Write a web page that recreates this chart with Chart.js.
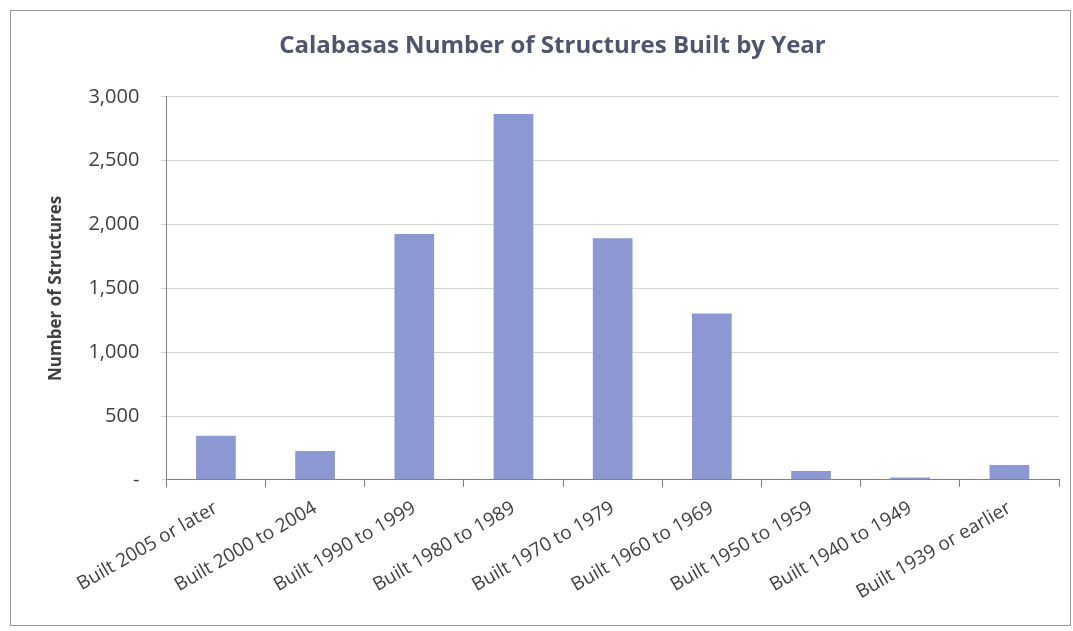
<!DOCTYPE html>
<html>
<head>
<meta charset="utf-8">
<script src="https://cdn.jsdelivr.net/npm/chart.js@4"></script>
<style>
  html, body { margin: 0; padding: 0; background: #fff; }
  #wrap { width: 1073px; height: 631px; position: relative; }
</style>
</head>
<body>
<div id="wrap"><canvas id="builtChart"></canvas></div>
<script>
// structures built, by year range
const categories = ["Built 2005 or later", "Built 2000 to 2004", "Built 1990 to 1999",
    "Built 1980 to 1989", "Built 1970 to 1979", "Built 1960 to 1969",
    "Built 1950 to 1959", "Built 1940 to 1949", "Built 1939 or earlier"]
const structures = [345, 227, 1925, 2865, 1893, 1302, 70, 18, 117]
const yTicks = [0, 500, 1000, 1500, 2000, 2500, 3000]

const textColor = "#404040"

//thin frame around the whole chart
const framePlugin = {
    id: "frame",
    beforeDraw(chart) {
        const ctx = chart.ctx
        ctx.save()
        ctx.strokeStyle = "#9a9a9a"
        ctx.lineWidth = 1
        ctx.strokeRect(10.5, 10.5, 1060, 615)
        ctx.restore()
    }
}

new Chart("builtChart", {
    type: "bar",
    data: {
        labels: categories,
        datasets: [{
            data: structures,
            backgroundColor: "#8c98d2",
            barPercentage: 0.4,
            categoryPercentage: 1
        }]
    },
    options: {
        responsive: true,
        maintainAspectRatio: false,
        animation: false,
        layout: {padding: {left: 46, right: 14, top: 22, bottom: 17}},
        scales: {
            x: {
                grid: {
                    offset: true,
                    drawOnChartArea: false,
                    color: "#808080",
                    tickLength: 7
                },
                border: {color: "#808080"},
                ticks: {
                    color: textColor,
                    font: {family: "Open Sans", size: 19},
                    maxRotation: 30,
                    minRotation: 30,
                    padding: 10
                }
            },
            y: {
                min: 0,
                max: 3000,
                afterBuildTicks: (axis) => { axis.ticks = yTicks.map(v => ({value: v})) },
                grid: {
                    color: "#d4d4d4",
                    tickLength: 5
                },
                border: {color: "#808080", dash: []},
                ticks: {
                    color: textColor,
                    font: {family: "Open Sans", size: 20},
                    padding: 22,
                    callback: (v) => v === 0 ? "-" : v.toLocaleString("en-US")
                },
                title: {
                    display: true,
                    text: "Number of Structures",
                    color: textColor,
                    font: {family: "Open Sans", size: 17, weight: "bold"},
                    padding: {top: 0, bottom: 0}
                }
            }
        },
        plugins: {
            legend: {display: false},
            tooltip: {enabled: false},
            title: {
                display: true,
                text: "Calabasas Number of Structures Built by Year",
                color: "#4f5470",
                font: {family: "Open Sans", size: 24, weight: "bold"},
                padding: {top: 10, bottom: 36}
            }
        }
    },
    plugins: [framePlugin]
})
</script>
</body>
</html>
